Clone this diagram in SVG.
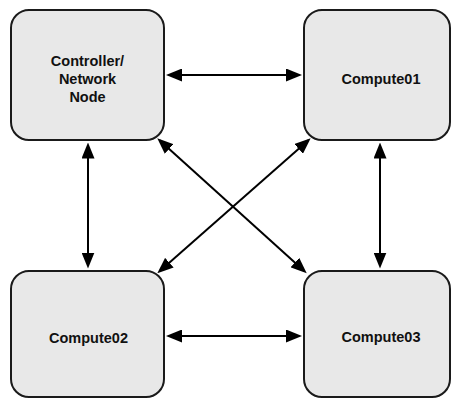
<svg xmlns="http://www.w3.org/2000/svg" width="451" height="398" viewBox="0 0 451 398">
<style>
.box{fill:#e8e8e8;stroke:#1a1a1a;stroke-width:2}
.lbl{font-family:"Liberation Sans",Arial,sans-serif;font-weight:bold;font-size:14.5px;fill:#111;text-anchor:middle}
.conn{stroke:#000;stroke-width:2;fill:none;marker-start:url(#ah);marker-end:url(#ah)}
</style>
<defs>
<marker id="ah" viewBox="0 0 16 13" refX="13" refY="6.5" markerWidth="16" markerHeight="13" markerUnits="userSpaceOnUse" orient="auto-start-reverse">
<path d="M0,0 L16,6.5 L0,13 z" fill="#000"/>
</marker>
</defs>
<rect width="451" height="398" fill="#fff"/>
<g id="connectors">
<line class="conn" x1="169" y1="75" x2="299" y2="75"/>
<line class="conn" x1="169" y1="336" x2="299" y2="336"/>
<line class="conn" x1="88" y1="145.5" x2="88" y2="265.5"/>
<line class="conn" x1="380" y1="145.5" x2="380" y2="265.5"/>
<line class="conn" x1="159.5" y1="140.3" x2="304.5" y2="271.3"/>
<line class="conn" x1="308.4" y1="140.3" x2="159.6" y2="271.3"/>
</g>
<g id="controller">
<rect class="box" x="11" y="10" width="153" height="130" rx="18"/>
<text class="lbl" x="87.5" y="66">Controller/</text>
<text class="lbl" x="87.5" y="84">Network</text>
<text class="lbl" x="87.5" y="101.5">Node</text>
</g>
<g id="compute01">
<rect class="box" x="304" y="10" width="146" height="130" rx="18"/>
<text class="lbl" x="381" y="83.5">Compute01</text>
</g>
<g id="compute02">
<rect class="box" x="11" y="271" width="153" height="126" rx="18"/>
<text class="lbl" x="88.5" y="342.5">Compute02</text>
</g>
<g id="compute03">
<rect class="box" x="304" y="271" width="146" height="126" rx="18"/>
<text class="lbl" x="381" y="342">Compute03</text>
</g>
</svg>
